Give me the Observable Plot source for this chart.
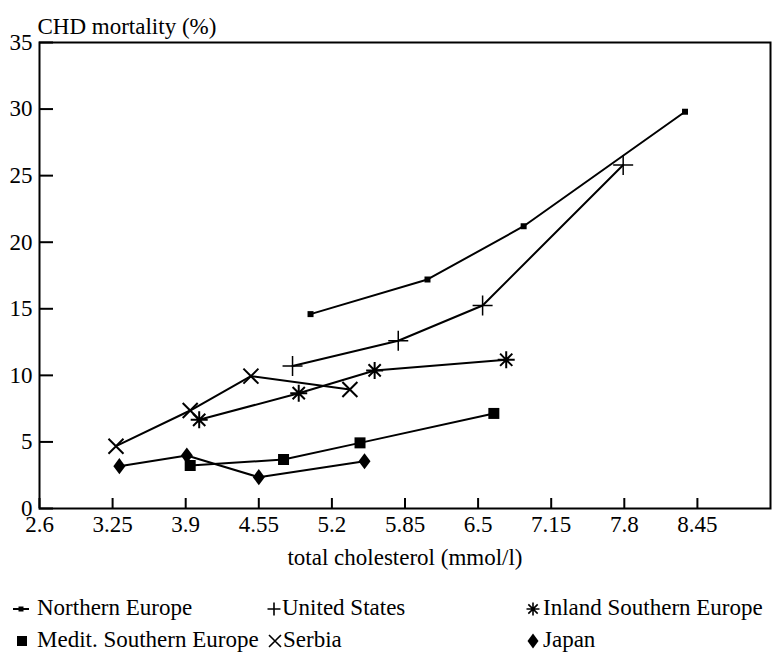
<!DOCTYPE html>
<html>
<head>
<meta charset="utf-8">
<script src="https://cdn.jsdelivr.net/npm/d3@7"></script>
<script src="https://cdn.jsdelivr.net/npm/@observablehq/plot@0.6"></script>
<style>
  html, body { margin: 0; padding: 0; background: #fff; }
  #wrap { position: relative; width: 772px; height: 653px; font-family: "Liberation Serif", "Times New Roman", serif; color: #000; overflow: hidden; }
  #legend { position: absolute; left: 0; top: 585px; width: 772px; height: 68px; font-size: 23px; }
  .mk { position: absolute; display: block; }
  .lt { position: absolute; white-space: nowrap; line-height: 26px; }
</style>
</head>
<body>
<div id="wrap"><div id="chart"></div><div id="legend"></div></div>
<script>
// ---- data ----
const series = ["Northern Europe", "United States", "Inland Southern Europe", "Medit. Southern Europe", "Serbia", "Japan"];
const northernEuropeX = [5.01, 6.05, 6.905, 8.34];
const northernEuropeY = [14.6, 17.2, 21.2, 29.8];
const unitedStatesX = [4.85, 5.79, 6.54, 7.79];
const unitedStatesY = [10.7, 12.6, 15.25, 25.8];
const inlandSouthX = [4.02, 4.905, 5.58, 6.75];
const inlandSouthY = [6.66, 8.66, 10.37, 11.17];
const meditSouthX = [3.94, 4.77, 5.45, 6.64];
const meditSouthY = [3.23, 3.68, 4.93, 7.14];
const serbiaX = [3.28, 3.94, 4.48, 5.36];
const serbiaY = [4.68, 7.36, 9.94, 8.94];
const japanX = [3.31, 3.91, 4.55, 5.49];
const japanY = [3.18, 3.98, 2.35, 3.55];
const xTicks = [2.6, 3.25, 3.9, 4.55, 5.2, 5.85, 6.5, 7.15, 7.8, 8.45];
const yTicks = [0, 5, 10, 15, 20, 25, 30, 35];
const yTitle = "CHD mortality (%)";
const xTitle = "total cholesterol (mmol/l)";

// ---- layout ----
const W = 772, H = 585, mT = 42, mL = 39, mR = 2, mB = 77;
const plotW = W - mL - mR, plotH = H - mT - mB;
const xTickLen = 10, yTickLen = 14;

// ---- custom symbols ----
const rad = size => Math.sqrt(size / Math.PI);
const symSquare = { draw(c, s) { const r = rad(s); c.rect(-r, -r, 2 * r, 2 * r); } };
const symDiamond = { draw(c, s) { const r = rad(s); const h = r * 1.35; c.moveTo(0, -h); c.lineTo(r, 0); c.lineTo(0, h); c.lineTo(-r, 0); c.closePath(); } };
const symPlus = { draw(c, s) { const r = rad(s); c.moveTo(-r, 0); c.lineTo(r, 0); c.moveTo(0, -r); c.lineTo(0, r); } };
const symTimes = { draw(c, s) { const r = rad(s); c.moveTo(-r, -r); c.lineTo(r, r); c.moveTo(-r, r); c.lineTo(r, -r); } };
const symStar = { draw(c, s) { const r = rad(s); const d = r * 0.72;
  c.moveTo(-r, 0); c.lineTo(r, 0); c.moveTo(0, -r); c.lineTo(0, r);
  c.moveTo(-d, -d); c.lineTo(d, d); c.moveTo(-d, d); c.lineTo(d, -d); } };

const styles = {
  "Northern Europe": { xs: northernEuropeX, ys: northernEuropeY, sym: symSquare, r: 3, filled: true, lr: 2.5 },
  "United States": { xs: unitedStatesX, ys: unitedStatesY, sym: symPlus, r: 10, filled: false, sw: 1.5, lr: 6.5 },
  "Inland Southern Europe": { xs: inlandSouthX, ys: inlandSouthY, sym: symStar, r: 8.5, filled: false, sw: 2, lr: 6.5 },
  "Medit. Southern Europe": { xs: meditSouthX, ys: meditSouthY, sym: symSquare, r: 5.5, filled: true, lr: 5 },
  "Serbia": { xs: serbiaX, ys: serbiaY, sym: symTimes, r: 7.5, filled: false, sw: 2, lr: 6 },
  "Japan": { xs: japanX, ys: japanY, sym: symDiamond, r: 6, filled: true, lr: 5.5 }
};

const rows = [];
for (const name of series) {
  const st = styles[name];
  st.xs.forEach((x, i) => rows.push({ series: name, x, y: st.ys[i] }));
}

const marks = [
  Plot.frame({ stroke: "#000", strokeWidth: 2 }),
  // inward tick marks
  Plot.tickX(xTicks, { x: d => d, stroke: "#000", strokeWidth: 2, insetTop: plotH - xTickLen }),
  Plot.tickY(yTicks, { y: d => d, stroke: "#000", strokeWidth: 2, insetRight: plotW - yTickLen }),
  // tick labels
  Plot.axisX({ ticks: xTicks, tickSize: 0, tickPadding: 7, tickFormat: d => String(d), label: null, fontSize: 23 }),
  Plot.axisY({ ticks: yTicks, tickSize: 0, tickPadding: 7, label: null, fontSize: 23 }),
  Plot.text([yTitle], { text: d => d, frameAnchor: "top-left", dx: -2, dy: -25, textAnchor: "start", fontSize: 23 }),
  Plot.text([xTitle], { text: d => d, frameAnchor: "bottom", dx: 0, dy: 56, fontSize: 23 })
];
for (const name of series) {
  const d = rows.filter(r => r.series === name);
  marks.push(Plot.line(d, { x: "x", y: "y", stroke: "#000", strokeWidth: 2 }));
}
for (const name of series) {
  const st = styles[name];
  const d = rows.filter(r => r.series === name);
  marks.push(Plot.dot(d, {
    x: "x", y: "y", symbol: st.sym, r: st.r,
    fill: st.filled ? "#000" : "none", stroke: "#000", strokeWidth: st.filled ? 0 : st.sw
  }));
}

const chart = Plot.plot({
  width: W,
  height: H,
  marginTop: mT,
  marginLeft: mL,
  marginRight: mR,
  marginBottom: mB,
  style: { fontFamily: "'Liberation Serif', 'Times New Roman', serif", fontSize: "23px", background: "#fff", color: "#000" },
  x: { domain: [2.6, 9.1], axis: null },
  y: { domain: [0, 35], axis: null },
  marks
});
document.getElementById("chart").appendChild(chart);

// ---- legend (marker centre x, text left x, row centre y relative to legend top) ----
const legendPos = {
  "Northern Europe": { mx: 21, tx: 37, cy: 24 },
  "United States": { mx: 274, tx: 282, cy: 24 },
  "Inland Southern Europe": { mx: 533, tx: 543, cy: 24 },
  "Medit. Southern Europe": { mx: 22, tx: 37, cy: 56 },
  "Serbia": { mx: 275, tx: 283, cy: 56 },
  "Japan": { mx: 533, tx: 543, cy: 56 }
};
const legend = d3.select("#legend");
for (const name of series) {
  const st = styles[name];
  const p = legendPos[name];
  const svg = legend.append("svg").attr("class", "mk").attr("width", 24).attr("height", 24)
    .style("left", (p.mx - 12) + "px").style("top", (p.cy - 12) + "px");
  const g = svg.append("g").attr("transform", "translate(12,12)");
  if (name === "Northern Europe") {
    g.append("line").attr("x1", -8).attr("x2", 8).attr("stroke", "#000").attr("stroke-width", 2);
  }
  g.append("path")
    .attr("d", d3.symbol(st.sym, Math.PI * st.lr * st.lr)())
    .attr("fill", st.filled ? "#000" : "none")
    .attr("stroke", st.filled ? "none" : "#000")
    .attr("stroke-width", st.filled ? 0 : 1.6);
  legend.append("div").attr("class", "lt").style("left", p.tx + "px").style("top", (p.cy - 14) + "px").text(name);
}
</script>
</body>
</html>
